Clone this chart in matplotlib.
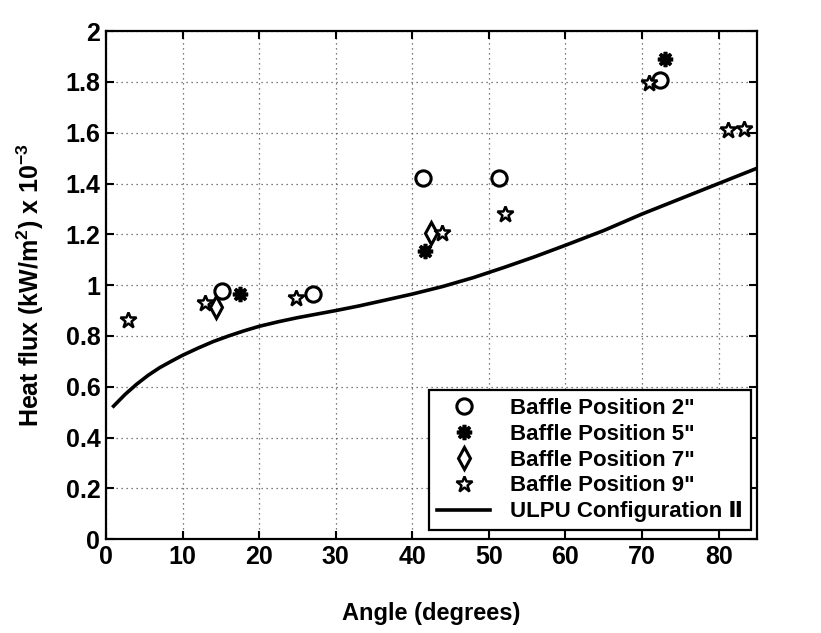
import matplotlib
matplotlib.use("Agg")
import matplotlib.pyplot as plt
from matplotlib.lines import Line2D

plt.rcParams['font.family'] = ['Liberation Sans', 'DejaVu Sans']
plt.rcParams['mathtext.fontset'] = 'custom'
plt.rcParams['mathtext.rm'] = 'Liberation Sans'
plt.rcParams['mathtext.bf'] = 'Liberation Sans:bold'

# Data
pos2_angle = [15.1, 27.1, 41.4, 51.3, 72.4]
pos2_flux = [0.976, 0.967, 1.42, 1.42, 1.807]

pos5_angle = [17.5, 41.6, 73.0]
pos5_flux = [0.967, 1.135, 1.889]

pos7_angle = [14.4, 42.4]
pos7_flux = [0.915, 1.207]

pos9_angle = [2.9, 12.9, 24.8, 43.9, 52.1, 70.9, 81.2, 83.3]
pos9_flux = [0.862, 0.928, 0.948, 1.207, 1.28, 1.797, 1.61, 1.613]

ulpu_angle = [1, 2.5, 4, 5.5, 7, 8.5, 10, 12, 14, 16, 18, 20, 22.5, 25, 27.5, 30,
              33, 36, 40, 44, 48, 52, 56, 60, 65, 70, 75, 80, 85]
ulpu_flux = [0.524, 0.57, 0.61, 0.645, 0.675, 0.70, 0.724, 0.752, 0.778, 0.80,
             0.82, 0.838, 0.856, 0.872, 0.886, 0.90, 0.918, 0.938, 0.965, 0.995,
             1.03, 1.07, 1.112, 1.157, 1.215, 1.28, 1.34, 1.40, 1.46]

xticks = [0, 10, 20, 30, 40, 50, 60, 70, 80]
yticks = [0, 0.2, 0.4, 0.6, 0.8, 1, 1.2, 1.4, 1.6, 1.8, 2]
ytick_labels = ['0', '0.2', '0.4', '0.6', '0.8', '1', '1.2', '1.4', '1.6', '1.8', '2']

fig = plt.figure(figsize=(8.21, 6.33), dpi=100)
ax = fig.add_axes([0.129, 0.148, 0.793, 0.803])

m_circle = dict(ls='none', marker='o', ms=11, mfc='white', mec='black', mew=2.2)
m_ast = dict(ls='none', marker=(8, 2, 0), ms=11, mfc='black', mec='black', mew=2.6)
m_diam = dict(ls='none', marker='d', ms=11, mfc='white', mec='black', mew=2.2)
m_star = dict(ls='none', marker='*', ms=12, mfc='white', mec='black', mew=1.8)
m_line = dict(color='black', lw=2.6)

ax.plot(ulpu_angle, ulpu_flux, zorder=3, **m_line)
ax.plot(pos2_angle, pos2_flux, zorder=4, **m_circle)
ax.plot(pos5_angle, pos5_flux, zorder=4, **m_ast)
ax.plot(pos7_angle, pos7_flux, zorder=4, **m_diam)
ax.plot(pos9_angle, pos9_flux, zorder=4, **m_star)

ax.set_xlim(0, 85)
ax.set_ylim(0, 2)
ax.set_xticks(xticks)
ax.set_yticks(yticks)
ax.set_yticklabels(ytick_labels)
ax.tick_params(direction='in', top=True, right=True, length=6, width=1.5,
               labelsize=18, pad=4)
for lab in ax.get_xticklabels() + ax.get_yticklabels():
    lab.set_fontweight('bold')
for s in ax.spines.values():
    s.set_linewidth(1.6)
ax.grid(True, ls=(0, (1, 3)), color='#555555', lw=0.9)

ax.set_xlabel('Angle (degrees)', fontsize=17, fontweight='bold', labelpad=24)
ax.set_ylabel(r'Heat flux (kW/m$\mathbf{^2}$) x 10$^{\mathbf{-3}}$', fontsize=18,
              fontweight='bold', labelpad=14)

handles = [Line2D([], [], **m_circle), Line2D([], [], **m_ast),
           Line2D([], [], **m_diam), Line2D([], [], **m_star),
           Line2D([], [], **m_line)]
labels = ['Baffle Position 2"', 'Baffle Position 5"', 'Baffle Position 7"',
          'Baffle Position 9"', 'ULPU Configuration Ⅱ']
leg = ax.legend(handles, labels, loc='lower right', bbox_to_anchor=(0.991, 0.018),
                fancybox=False, frameon=True, edgecolor='black', framealpha=1,
                prop={'size': 16, 'weight': 'bold'}, handlelength=2.4,
                handletextpad=0.9, borderpad=0.35, labelspacing=0.22,
                borderaxespad=0)
leg.get_frame().set_linewidth(1.6)

fig.savefig('out.png', dpi=100)
